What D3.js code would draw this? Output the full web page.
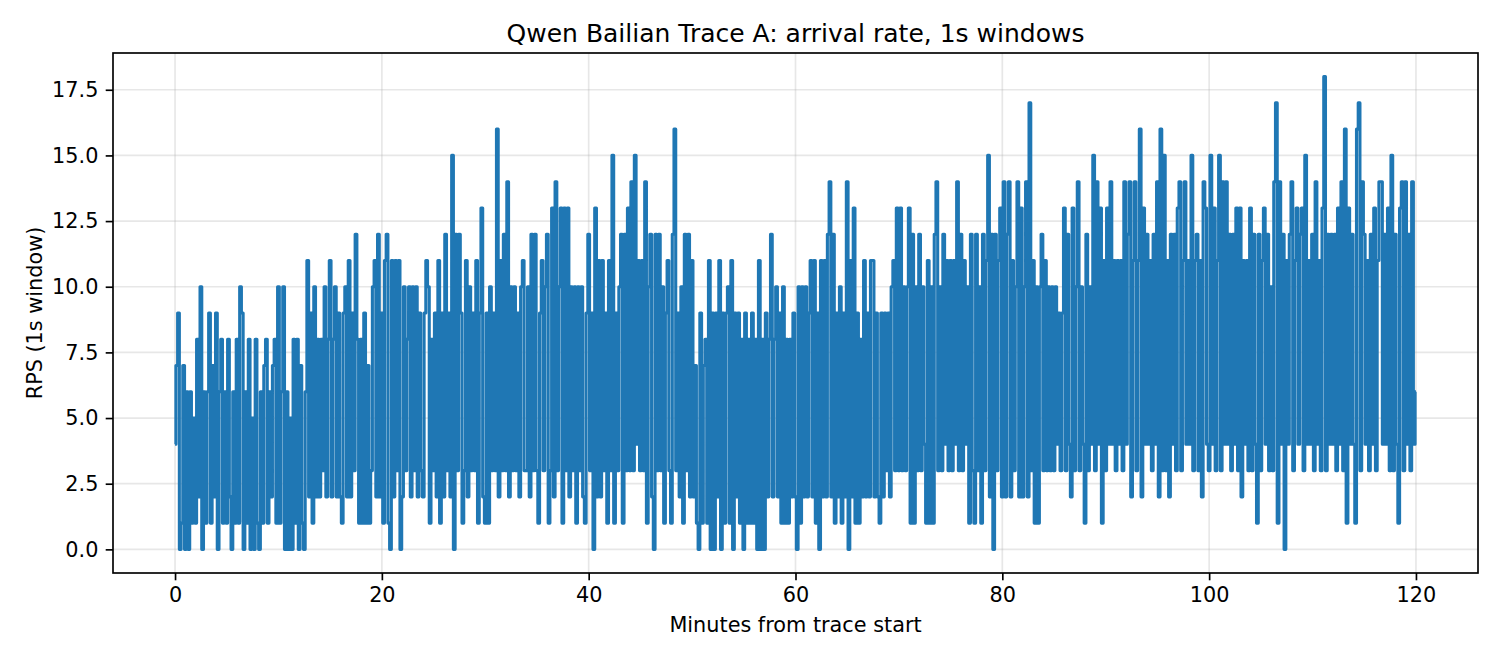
<!DOCTYPE html>
<html>
<head>
<meta charset="utf-8">
<script src="https://cdn.jsdelivr.net/npm/d3@7/dist/d3.min.js"></script>
<style>
  body { margin: 0; background: #fff; }
  svg { font-family: "DejaVu Sans", sans-serif; }
</style>
</head>
<body>
<svg id="chart" width="1500" height="660"></svg>
<script>
// RPS readings, one every 10 s (6 per minute), estimated from the trace
const rps = [
  4, 7, 9, 0, 1, 7,   0, 6, 0, 6, 1, 5,   1, 8, 2, 10, 0, 6,   1, 6, 9, 1, 7, 2,
  9, 0, 6, 8, 1, 6,   1, 8, 2, 0, 6, 1,   8, 1, 10, 9, 0, 6,   1, 8, 0, 5, 0, 8,
  1, 0, 6, 1, 7, 8,   1, 6, 2, 7, 8, 1,   10, 1, 6, 10, 0, 6,  0, 5, 0, 8, 1, 8,
  0, 7, 1, 0, 6, 11,  2, 9, 1, 10, 2, 8,  2, 8, 3, 10, 2, 8,   11, 2, 8, 10, 2, 9,
  2, 1, 9, 10, 2, 11, 2, 9, 3, 12, 8, 1,  8, 1, 9, 1, 7, 1,    3, 10, 11, 2, 12, 2,
  9, 1, 11, 12, 1, 0, 11, 2, 11, 3, 11, 0, 2, 10, 3, 8, 10, 2, 10, 3, 10, 2, 9, 3,
  2, 9, 11, 10, 1, 8, 3, 9, 2, 11, 1, 9,  2, 12, 3, 9, 2, 15,  0, 12, 3, 12, 9, 1,
  3, 11, 2, 10, 3, 9, 3, 11, 1, 9, 13, 2, 1, 9, 1, 10, 3, 9,   3, 16, 2, 11, 3, 12,
  3, 14, 2, 10, 3, 10, 3, 9, 2, 10, 11, 3, 3, 10, 2, 12, 3, 12, 3, 1, 9, 11, 3, 10,
  12, 1, 3, 13, 2, 14, 3, 10, 13, 1, 13, 3, 13, 2, 10, 3, 10, 1, 10, 3, 10, 2, 1, 9,
  12, 3, 9, 0, 13, 2, 11, 2, 11, 3, 9, 1, 11, 3, 15, 1, 9, 3,  10, 12, 1, 12, 3, 13,
  3, 14, 3, 15, 4, 11, 3, 11, 3, 14, 1, 10, 12, 2, 0, 12, 3, 12, 3, 10, 1, 9, 11, 3,
  1, 12, 16, 3, 9, 2, 10, 1, 12, 3, 12, 2, 11, 2, 7, 1, 0, 9,  1, 7, 8, 1, 11, 0,
  9, 0, 9, 2, 11, 0,  9, 1, 9, 10, 1, 11, 0, 9, 2, 9, 1, 8,    0, 9, 1, 8, 1, 9,
  1, 8, 0, 11, 0, 8,  0, 9, 2, 8, 12, 2,  8, 10, 2, 9, 1, 10,  1, 8, 1, 8, 2, 9,
  2, 0, 10, 1, 10, 2, 10, 2, 9, 11, 2, 11, 1, 9, 0, 11, 2, 11, 2, 12, 14, 2, 12, 1,
  9, 2, 10, 1, 9, 2,  14, 0, 11, 2, 13, 1, 9, 1, 8, 2, 11, 2,  9, 2, 11, 11, 2, 9,
  2, 1, 9, 2, 9, 3,   9, 2, 10, 11, 3, 13, 3, 13, 3, 10, 3, 10, 13, 1, 12, 1, 10, 3,
  12, 3, 10, 4, 1, 11, 1, 10, 1, 12, 14, 3, 10, 3, 12, 4, 11, 3, 11, 3, 11, 4, 14, 3,
  12, 3, 11, 4, 10, 1, 12, 3, 1, 12, 3, 10, 1, 12, 3, 11, 15, 2, 12, 0, 12, 3, 11, 13,
  2, 14, 2, 12, 14, 2, 11, 3, 10, 14, 2, 13, 2, 10, 14, 2, 17, 3, 11, 1, 10, 1, 10, 12,
  3, 11, 3, 10, 3, 10, 3, 10, 4, 9, 3, 9, 13, 3, 12, 4, 2, 13, 3, 10, 14, 3, 10, 4,
  1, 12, 3, 10, 4, 15, 3, 14, 4, 13, 1, 11, 3, 13, 4, 14, 4, 11, 3, 11, 4, 11, 3, 14,
  4, 12, 14, 2, 11, 14, 3, 11, 16, 2, 13, 4, 12, 4, 11, 3, 12, 4, 14, 2, 16, 3, 15, 3,
  11, 2, 12, 4, 12, 3, 13, 14, 3, 11, 14, 4, 11, 4, 15, 3, 11, 12, 3, 11, 2, 14, 13, 4,
  3, 15, 4, 13, 3, 11, 15, 3, 14, 4, 14, 4, 12, 3, 12, 4, 13, 3, 13, 2, 11, 4, 11, 3,
  13, 3, 12, 4, 1, 12, 3, 11, 13, 4, 12, 3, 10, 3, 14, 17, 1, 14, 4, 12, 0, 11, 4, 12,
  14, 3, 11, 13, 4, 12, 13, 3, 15, 4, 11, 4, 12, 3, 14, 4, 11, 3, 13, 18, 3, 12, 4, 12,
  4, 12, 3, 13, 4, 14, 3, 16, 1, 13, 4, 12, 4, 1, 16, 17, 3, 14, 12, 4, 11, 3, 12, 4,
  13, 3, 11, 14, 14, 4, 12, 4, 13, 3, 15, 3, 12, 4, 1, 13, 14, 3, 14, 4, 12, 3, 14, 4,
  6
];
const stepSeconds = 10;
const xTicks = [0, 20, 40, 60, 80, 100, 120];
const yTicks = [0, 2.5, 5, 7.5, 10, 12.5, 15, 17.5];
const titleText = "Qwen Bailian Trace A: arrival rate, 1s windows";
const xLabel = "Minutes from trace start";
const yLabel = "RPS (1s window)";

const plotLeft = 113, plotRight = 1478, plotTop = 53, plotBottom = 573;
const fs = 20.8;

const svg = d3.select("#chart");

const xScale = d3.scaleLinear().domain([-6, 126]).range([plotLeft, plotRight]);
const yScale = d3.scaleLinear().domain([-0.9, 18.9]).range([plotBottom, plotTop]);

// grid
svg.append("g").selectAll("line").data(xTicks).enter().append("line")
    .attr("x1", d => xScale(d)).attr("x2", d => xScale(d))
    .attr("y1", plotTop).attr("y2", plotBottom)
    .attr("stroke", "#b0b0b0").attr("stroke-opacity", 0.3).attr("stroke-width", 1.67);
svg.append("g").selectAll("line").data(yTicks).enter().append("line")
    .attr("x1", plotLeft).attr("x2", plotRight)
    .attr("y1", d => yScale(d)).attr("y2", d => yScale(d))
    .attr("stroke", "#b0b0b0").attr("stroke-opacity", 0.3).attr("stroke-width", 1.67);

svg.append("clipPath").attr("id", "plotClip")
    .append("rect").attr("x", plotLeft).attr("y", plotTop)
    .attr("width", plotRight - plotLeft).attr("height", plotBottom - plotTop);

// step curve: each reading is held for its window, so spikes stay upright
const line = d3.line()
    .curve(d3.curveStep)
    .x((d, i) => xScale(i * stepSeconds / 60))
    .y(d => yScale(d));

svg.append("path")
    .datum(rps)
    .attr("clip-path", "url(#plotClip)")
    .attr("fill", "none")
    .attr("stroke", "#1f77b4")
    .attr("stroke-width", 3.1)
    .attr("stroke-linejoin", "round")
    .attr("d", line);

// axes
const xAxis = svg.append("g").attr("transform", `translate(0, ${plotBottom})`)
    .call(d3.axisBottom(xScale).tickValues(xTicks).tickFormat(d3.format("d"))
        .tickSize(7.3).tickPadding(7.3));
const yAxis = svg.append("g").attr("transform", `translate(${plotLeft}, 0)`)
    .call(d3.axisLeft(yScale).tickValues(yTicks).tickFormat(d3.format(".1f"))
        .tickSize(7.3).tickPadding(7.3));

[xAxis, yAxis].forEach(ax => {
    ax.select(".domain").remove();
    ax.attr("font-family", "DejaVu Sans, sans-serif").attr("font-size", fs);
    ax.selectAll(".tick line").attr("stroke", "#000").attr("stroke-width", 1.67);
    ax.selectAll(".tick text").attr("fill", "#000");
});

svg.append("rect")
    .attr("x", plotLeft).attr("y", plotTop)
    .attr("width", plotRight - plotLeft).attr("height", plotBottom - plotTop)
    .attr("fill", "none").attr("stroke", "#000").attr("stroke-width", 1.67);

svg.append("text")
    .attr("x", (plotLeft + plotRight) / 2).attr("y", 42)
    .attr("text-anchor", "middle").attr("font-size", 25)
    .text(titleText);

svg.append("text")
    .attr("x", (plotLeft + plotRight) / 2).attr("y", 632)
    .attr("text-anchor", "middle").attr("font-size", fs)
    .text(xLabel);

svg.append("text")
    .attr("transform", `translate(41.7, ${(plotTop + plotBottom) / 2}) rotate(-90)`)
    .attr("text-anchor", "middle").attr("font-size", fs)
    .text(yLabel);
</script>
</body>
</html>
